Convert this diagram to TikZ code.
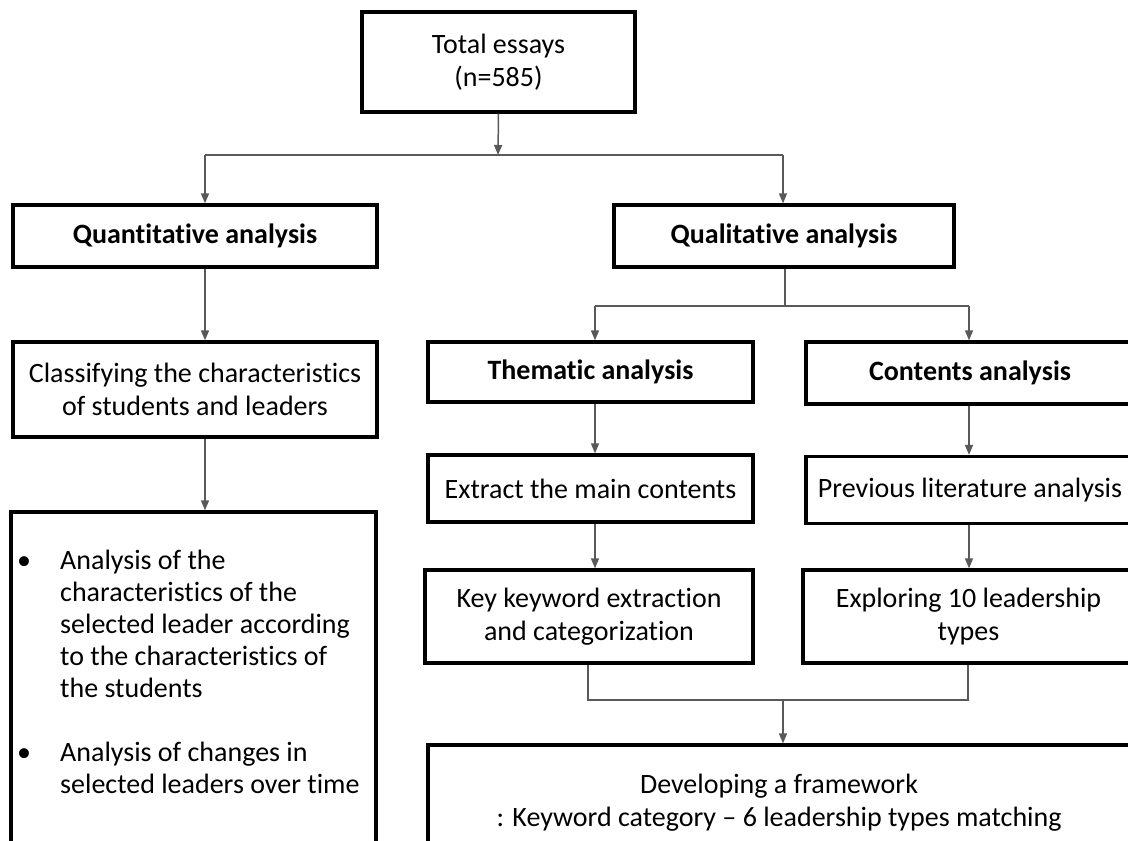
\documentclass[tikz,border=0pt]{standalone}
\usepackage{fontspec}
\setmainfont{Carlito}[Ligatures=NoCommon]
\usepackage{tikz}
\usetikzlibrary{arrows.meta,positioning,calc}
\definecolor{FlowLine}{HTML}{595959}

\begin{document}
\begin{tikzpicture}[x=1pt,y=-1pt,
  box/.style={draw=black,line width=3.3pt,fill=white,align=center,inner sep=0pt,
    font=\fontsize{28}{33}\selectfont},
  boldbox/.style={box,font=\fontsize{28}{33}\selectfont\bfseries},
  link/.style={draw=FlowLine,line width=1.5pt},
  arr/.style={link,-{Triangle[length=10pt,width=8pt]}}]
  \useasboundingbox (0,0) rectangle (1128,841);
  \clip (0,0) rectangle (1128,841);

  % boxes
  \node[box,minimum width=273pt,minimum height=100pt] (total) at (498.5,62) {Total essays\\(n=585)};
  \node[boldbox,minimum width=364pt,minimum height=62pt] (quant) at (195,236) {Quantitative analysis};
  \node[boldbox,minimum width=340pt,minimum height=62pt] (qual) at (784,236) {Qualitative analysis};
  \node[box,minimum width=364pt,minimum height=95pt] (classify) at (195,389.5) {Classifying the characteristics\\of students and leaders};
  \node[box,minimum width=365pt,minimum height=368pt] (listbox) at (193.5,696) {};
  \node[anchor=north west,inner sep=0pt,font=\fontsize{28}{32}\selectfont] (qlist) at (17,547) {%
    \begin{tabular}{@{}p{43pt}@{}l@{}}
      \textbullet & Analysis of the\\
       & characteristics of the\\
       & selected leader according\\
       & to the characteristics of\\
       & the students\\[32pt]
      \textbullet & Analysis of changes in\\
       & selected leaders over time
    \end{tabular}};
  \node[boldbox,minimum width=325pt,minimum height=60pt] (thematic) at (590.5,372) {Thematic analysis};
  \node[boldbox,minimum width=328pt,minimum height=62pt] (contents) at (970,373) {Contents analysis};
  \node[box,minimum width=325pt,minimum height=67pt] (extract) at (590.5,488.5) {Extract the main contents};
  \node[box,minimum width=328pt,minimum height=67pt] (previous) at (970,490) {Previous literature analysis};
  \node[box,minimum width=328pt,minimum height=93pt] (keyword) at (589,616.5) {Key keyword extraction\\and categorization};
  \node[box,minimum width=331pt,minimum height=93pt] (exploring) at (968.5,616.5) {Exploring 10 leadership\\types};
  \node[box,minimum width=702pt,minimum height=116pt] (develop) at (779,803) {Developing a framework\\: Keyword category -- 6 leadership types matching};

  % split below total
  \coordinate (split) at (498,155);
  \coordinate (splitL) at (205,155);
  \coordinate (splitR) at (783,155);
  \draw[arr] (total.south) -- (split);
  \draw[link] (splitL) -- (splitR);
  \draw[arr] (splitL) -- (splitL |- quant.north);
  \draw[arr] (splitR) -- (splitR |- qual.north);
  \draw[arr] (splitL |- quant.south) -- (splitL |- classify.north);
  \draw[arr] (splitL |- classify.south) -- (splitL |- listbox.north);

  % qualitative branches
  \coordinate (branch) at (785,306);
  \coordinate (branchL) at (595,306);
  \coordinate (branchR) at (969,306);
  \draw[link] (qual.south -| branch) -- (branch);
  \draw[link] (branchL) -- (branchR);
  \draw[arr] (branchL) -- (branchL |- thematic.north);
  \draw[arr] (branchR) -- (branchR |- contents.north);
  \draw[arr] (branchL |- thematic.south) -- (branchL |- extract.north);
  \draw[arr] (branchL |- extract.south) -- (branchL |- keyword.north);
  \draw[arr] (branchR |- contents.south) -- (branchR |- previous.north);
  \draw[arr] (branchR |- previous.south) -- (branchR |- exploring.north);

  % merge into framework
  \coordinate (mergeL) at (588,700);
  \coordinate (mergeR) at (968,700);
  \coordinate (merge) at (783,700);
  \draw[link] (mergeL |- keyword.south) -- (mergeL) -- (mergeR) -- (mergeR |- exploring.south);
  \draw[arr] (merge) -- (merge |- develop.north);
\end{tikzpicture}
\end{document}
